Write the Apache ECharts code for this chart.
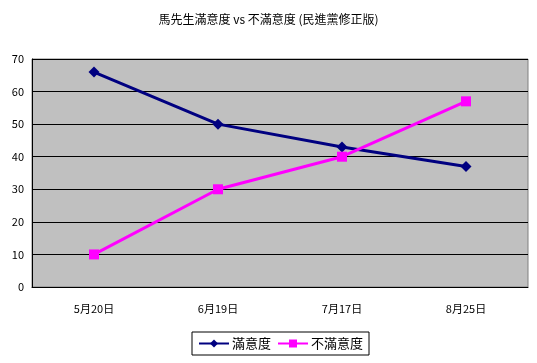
<!DOCTYPE html>
<html><head><meta charset="utf-8">
<script src="https://cdn.jsdelivr.net/npm/echarts@6/dist/echarts.min.js"></script>
<style>html,body{margin:0;padding:0;background:#fff}#c{width:537px;height:363px}</style>
</head><body><div id="c"></div>
<script>
const categories = ['5月20日', '6月19日', '7月17日', '8月25日'];
const satisfied = [66, 50, 43, 37];
const dissatisfied = [10, 30, 40, 57];
const seriesNames = ['滿意度', '不滿意度'];
const titleText = '馬先生滿意度 vs 不滿意度 (民進黨修正版)';

const font = '"Noto Sans CJK TC", "Noto Sans CJK SC", sans-serif';
const chart = echarts.init(document.getElementById('c'), null, {renderer: 'canvas'});
chart.setOption({
  animation: false,
  backgroundColor: '#ffffff',
  title: {
    text: titleText, left: 'center', top: 8,
    textStyle: {fontSize: 12, fontWeight: 'normal', color: '#000', fontFamily: font}
  },
  legend: {
    top: 332, left: 192,
    data: seriesNames,
    itemWidth: 30, itemHeight: 10, itemGap: 6,
    padding: [5, 6],
    borderColor: '#000', borderWidth: 1,
    textStyle: {fontSize: 13, color: '#000', fontFamily: font, padding: [0, 0, 0, -2]}
  },
  grid: {
    left: 32, right: 9, top: 59, bottom: 76,
    show: true, backgroundColor: '#C0C0C0', borderColor: '#808080', borderWidth: 1
  },
  xAxis: {
    type: 'category', data: categories, boundaryGap: true,
    axisLine: {lineStyle: {color: '#000', width: 1}},
    axisTick: {inside: true, length: 4, lineStyle: {color: '#000'}},
    axisLabel: {margin: 16, fontSize: 11, color: '#000', fontFamily: font}
  },
  yAxis: {
    type: 'value', min: 0, max: 70, interval: 10,
    axisLine: {show: true, lineStyle: {color: '#000', width: 1}},
    axisTick: {show: false},
    splitLine: {lineStyle: {color: '#000', width: 1}},
    axisLabel: {margin: 8, fontSize: 11, color: '#000', fontFamily: font}
  },
  series: [
    {
      name: seriesNames[0], type: 'line', data: satisfied,
      symbol: 'diamond', symbolSize: 11,
      lineStyle: {color: '#000080', width: 3},
      itemStyle: {color: '#000080'}
    },
    {
      name: seriesNames[1], type: 'line', data: dissatisfied,
      symbol: 'rect', symbolSize: 10,
      lineStyle: {color: '#FF00FF', width: 3},
      itemStyle: {color: '#FF00FF'}
    }
  ]
});
</script></body></html>
